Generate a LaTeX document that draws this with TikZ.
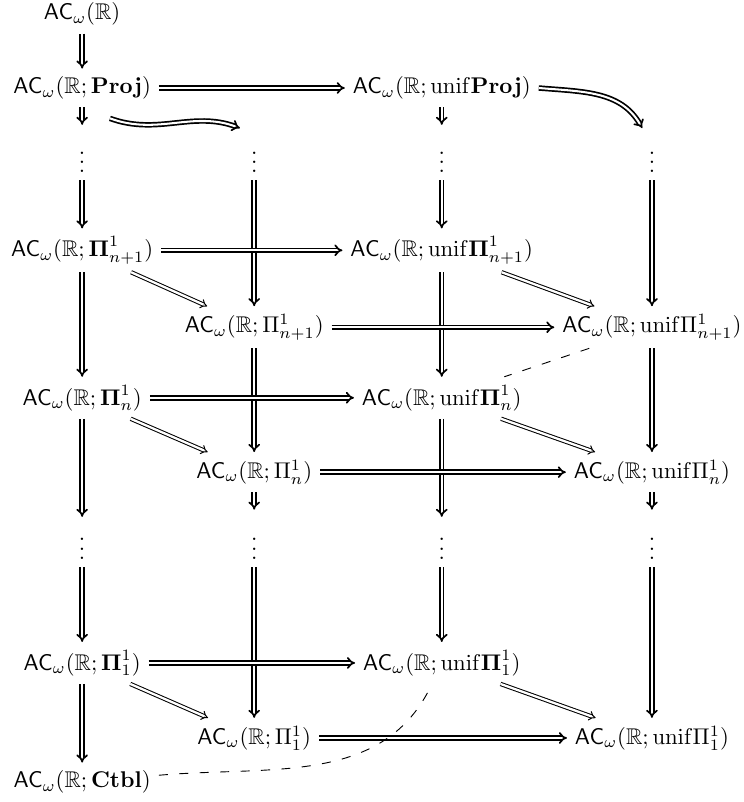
\documentclass[tikz,border=0pt]{standalone}
\usepackage{amsmath}
\usepackage{amssymb}
\usetikzlibrary{arrows.meta}

\newcommand{\acw}[1]{$\mathsf{AC}_\omega(\mathbb{R}#1)$}

\begin{document}
\begin{tikzpicture}[imp/.style={double, double distance=0.9pt, line width=0.75pt, -{Implies}},
  thinimp/.style={double, double distance=1pt, line width=0.45pt, -{Implies}},
  nonimp/.style={dash pattern=on 4pt off 5pt, line width=0.4pt}]

\useasboundingbox (0,0) rectangle (11.49,-12.40);

\node (acr) at (1.27,-0.22) {$\mathsf{AC}_\omega(\mathbb{R})$};
\node (proj) at (1.27,-1.36) {\acw{;\mathbf{Proj}}};
\node (uproj) at (6.83,-1.36) {\acw{;\mathrm{unif}\mathbf{Proj}}};

\coordinate (c1) at (1.27,-1.93);
\coordinate (c3) at (6.83,-1.93);
\coordinate (c2) at (3.71,-1.98);
\coordinate (c4) at (9.93,-1.98);

\node (d1) at (1.27,-2.40) {$\vdots$};
\node (d2) at (3.93,-2.40) {$\vdots$};
\node (d3) at (6.83,-2.40) {$\vdots$};
\node (d4) at (10.08,-2.40) {$\vdots$};

\node (bnp) at (1.27,-3.87) {\acw{;\boldsymbol{\Pi}^1_{n+1}}};
\node (ubnp) at (6.83,-3.87) {\acw{;\mathrm{unif}\boldsymbol{\Pi}^1_{n+1}}};
\node (fnp) at (3.93,-5.06) {\acw{;\Pi^1_{n+1}}};
\node (ufnp) at (10.08,-5.06) {\acw{;\mathrm{unif}\Pi^1_{n+1}}};

\node (bn) at (1.27,-6.15) {\acw{;\boldsymbol{\Pi}^1_n}};
\node (ubn) at (6.83,-6.15) {\acw{;\mathrm{unif}\boldsymbol{\Pi}^1_n}};
\node (fn) at (3.93,-7.30) {\acw{;\Pi^1_n}};
\node (ufn) at (10.08,-7.30) {\acw{;\mathrm{unif}\Pi^1_n}};

\coordinate (e2) at (3.93,-7.88);
\coordinate (e4) at (10.08,-7.88);

\node (d5) at (1.27,-8.38) {$\vdots$};
\node (d6) at (3.93,-8.38) {$\vdots$};
\node (d7) at (6.83,-8.38) {$\vdots$};
\node (d8) at (10.08,-8.38) {$\vdots$};

\node (b1) at (1.27,-10.25) {\acw{;\boldsymbol{\Pi}^1_1}};
\node (ub1) at (6.83,-10.25) {\acw{;\mathrm{unif}\boldsymbol{\Pi}^1_1}};
\node (f1) at (3.93,-11.41) {\acw{;\Pi^1_1}};
\node (uf1) at (10.08,-11.41) {\acw{;\mathrm{unif}\Pi^1_1}};

\node (ctbl) at (1.27,-12.09) {\acw{;\mathbf{Ctbl}}};

% top part
\draw [imp] (acr) -- (proj);
\draw [imp] (proj) -- (uproj);
\draw [imp] (proj) -- (c1);
\draw [imp] (uproj) -- (c3);
\draw [imp] ([shift={(0.43,-0.17)}]proj.south) to[out=-20,in=160] (c2);
\draw [imp] (uproj.east) to[out=-5,in=120] (c4);

% columns
\draw [imp] (d1) -- (bnp);
\draw [imp] (d2) -- (fnp);
\draw [imp] (d3) -- (ubnp);
\draw [imp] (d4) -- (ufnp);
\draw [imp] (bnp) -- (bn);
\draw [imp] (fnp) -- (fn);
\draw [imp] (ubnp) -- (ubn);
\draw [imp] (ufnp) -- (ufn);
\draw [imp] (bn) -- (d5);
\draw [imp] (ubn) -- (d7);
\draw [imp] (fn) -- (e2);
\draw [imp] (ufn) -- (e4);
\draw [imp] (d5) -- (b1);
\draw [imp] (d6) -- (f1);
\draw [imp] (d7) -- (ub1);
\draw [imp] (d8) -- (uf1);
\draw [imp] (b1) -- (ctbl);

% rows
\draw [imp] (bnp) -- (ubnp);
\draw [imp] (fnp) -- (ufnp);
\draw [imp] (bn) -- (ubn);
\draw [imp] (fn) -- (ufn);
\draw [imp] (b1) -- (ub1);
\draw [imp] (f1) -- (uf1);

% back to front
\draw [thinimp] (bnp) -- (fnp);
\draw [thinimp] (ubnp) -- (ufnp);
\draw [thinimp] (bn) -- (fn);
\draw [thinimp] (ubn) -- (ufn);
\draw [thinimp] (b1) -- (f1);
\draw [thinimp] (ub1) -- (uf1);

% no implication
\draw [nonimp] (ufnp) -- (ubn);
\draw [nonimp] (ctbl) to[out=5,in=-115] (ub1);

\end{tikzpicture}
\end{document}
